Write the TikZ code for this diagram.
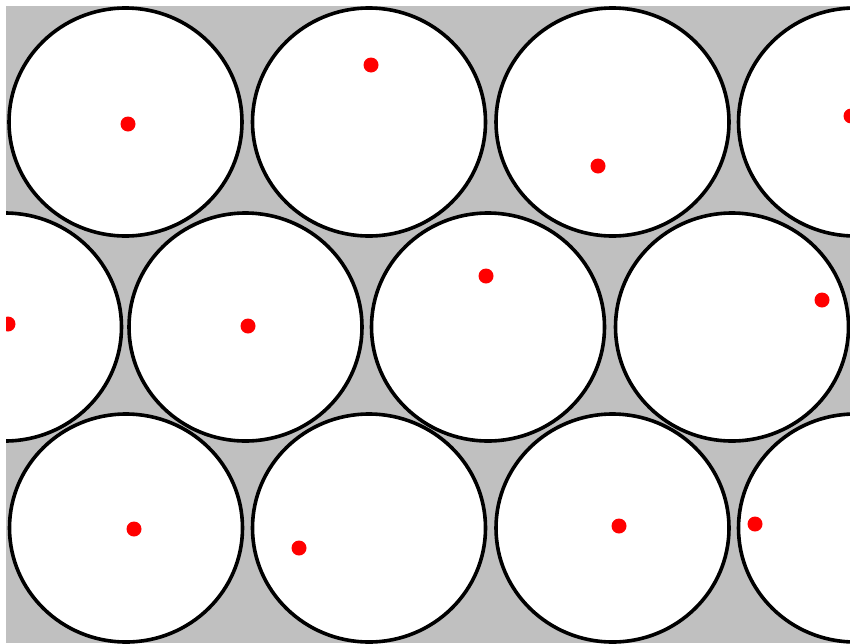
\documentclass[tikz,border=0pt]{standalone}
\definecolor{bggray}{RGB}{192,192,192}
\begin{document}
\begin{tikzpicture}[x=1pt,y=-1pt,
  disc/.style={fill=white},
  rim/.style={draw=black,line width=3.6pt},
  dot/.style={fill=red}]
\useasboundingbox (0,0) rectangle (850,643);
\fill[white] (0,0) rectangle (850,643);
\fill[bggray] (6,6) rectangle (850,643);
\begin{scope}
\clip (6,6) rectangle (850,643);
\foreach \x/\y in {125.5/122,369/122,612.5/122,855/122,
                   5/327,245.5/327,488/327,732/327,
                   126/528,369/528,612.5/528,855/528}
  \fill[disc] (\x,\y) ellipse [x radius=116.5, y radius=114];
\foreach \x/\y in {125.5/122,369/122,612.5/122,855/122,
                   5/327,245.5/327,488/327,732/327,
                   126/528,369/528,612.5/528,855/528}
  \draw[rim] (\x,\y) ellipse [x radius=116.5, y radius=114];
\foreach \x/\y in {128/124,371/65,598/166,851/116,
                   8/324,248/326,486/276,822/300,
                   134/529,299/548,619/526,755/524}
  \fill[dot] (\x,\y) circle (7.5);
\end{scope}
\end{tikzpicture}
\end{document}
